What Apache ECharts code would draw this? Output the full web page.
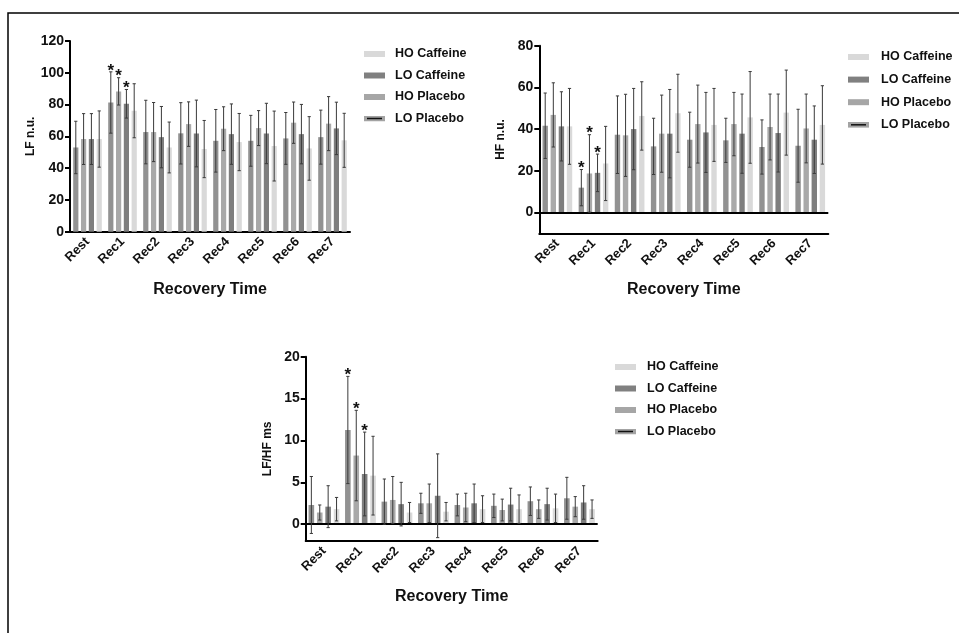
<!DOCTYPE html>
<html><head><meta charset="utf-8">
<script src="https://cdn.jsdelivr.net/npm/echarts@6/dist/echarts.min.js"></script>
<style>html,body{margin:0;padding:0;background:#fff}#c{width:959px;height:633px}</style>
</head><body><div id="c"></div><script>
// ---------- data ----------
const categories = ['Rest','Rec1','Rec2','Rec3','Rec4','Rec5','Rec6','Rec7'];
// bar order inside each group
const barSeries = ['LO Caffeine','HO Placebo','LO Placebo','HO Caffeine'];
const legendOrder = ['HO Caffeine','LO Caffeine','HO Placebo','LO Placebo'];

// LF n.u.
const lfLoCaffeine = [53, 81.3, 62.7, 61.9, 57.2, 57.2, 58.7, 59.5];
const lfHoPlacebo  = [58.3, 88.3, 62.7, 67.7, 64.8, 65.2, 68.6, 68];
const lfLoPlacebo  = [58.3, 80.5, 59.5, 61.8, 61.4, 61.8, 61.4, 65];
const lfHoCaffeine = [58.3, 76.1, 53, 52, 56.4, 53.9, 52.4, 57.5];
const lfLoCaffeineSD = [16.5, 19.3, 20, 19.3, 19.7, 16, 16.3, 17];
const lfHoPlaceboSD  = [16, 8.6, 18.6, 14, 13.8, 11, 13, 17];
const lfLoPlaceboSD  = [16, 9, 19.3, 21, 19, 19, 18.7, 16.5];
const lfHoCaffeineSD = [17.7, 17, 16, 18, 18, 22, 20, 17];

// HF n.u.
const hfLoCaffeine = [41.6, 11.9, 37.3, 31.7, 34.9, 34.6, 31.4, 32];
const hfHoPlacebo  = [46.8, 18.7, 37, 37.8, 42.4, 42.4, 41, 40.3];
const hfLoPlacebo  = [41.3, 19, 40, 37.8, 38.4, 37.8, 38.1, 34.9];
const hfHoCaffeine = [41.3, 23.5, 46.3, 47.6, 42, 45.6, 47.9, 42];
const hfLoCaffeineSD = [15.7, 8.7, 18.6, 13.5, 13.2, 10.6, 13, 17.5];
const hfHoPlaceboSD  = [15.4, 18.6, 19.7, 18.5, 18.7, 15.2, 15.8, 16.5];
const hfLoPlaceboSD  = [16.6, 9, 19.5, 21.2, 19.2, 19, 18.7, 16.2];
const hfHoCaffeineSD = [18.2, 17.8, 16.4, 18.7, 17.5, 22, 20.4, 18.8];

// LF/HF ms
const ratioLoCaffeine = [2.3, 11.25, 2.7, 2.5, 2.3, 2.2, 2.75, 3.1];
const ratioHoPlacebo  = [1.4, 8.2, 2.9, 2.5, 2.0, 1.7, 1.8, 2.1];
const ratioLoPlacebo  = [2.1, 6.0, 2.4, 3.4, 2.5, 2.35, 2.4, 2.6];
const ratioHoCaffeine = [1.8, 5.8, 1.4, 1.5, 1.8, 1.8, 1.9, 1.8];
const ratioLoCaffeineSD = [3.4, 6.4, 2.7, 1.2, 1.3, 1.4, 1.7, 2.5];
const ratioHoPlaceboSD  = [0.9, 5.4, 2.8, 2.3, 1.7, 1.3, 1.1, 1.2];
const ratioLoPlaceboSD  = [2.5, 5.0, 2.6, 5.0, 2.3, 1.95, 1.9, 2.0];
const ratioHoCaffeineSD = [1.4, 4.7, 1.2, 1.1, 1.6, 1.7, 1.7, 1.1];

// significant bars: [category index, bar index]
const significant = [[1,0],[1,1],[1,2]];

// tick labels
const lfTicks = [0,20,40,60,80,100,120];
const hfTicks = [0,20,40,60,80];
const ratioTicks = [0,5,10,15,20];

// ---------- styling ----------
const FONT = 'Liberation Sans, Arial, Helvetica, sans-serif';
const barColors = ['#929292','#a9a9a9','#7e7e7e','#d9d9d9'];
const legendColors = {'HO Caffeine':'#d9d9d9','LO Caffeine':'#808080','HO Placebo':'#a6a6a6','LO Placebo':'#a3a3a3'};
const loPlaceboIcon = 'image://data:image/svg+xml;utf8,' + encodeURIComponent(
  '<svg xmlns="http://www.w3.org/2000/svg" width="42" height="12"><rect width="42" height="12" fill="#a3a3a3"/><rect x="6" y="4.5" width="30" height="3" fill="#111"/></svg>');

const panels = [
  { name:'LF n.u.', grid:{left:70, top:41, width:280, height:190.7}, min:0, max:120, ticks:lfTicks,
    means:[lfLoCaffeine,lfHoPlacebo,lfLoPlacebo,lfHoCaffeine], sds:[lfLoCaffeineSD,lfHoPlaceboSD,lfLoPlaceboSD,lfHoCaffeineSD],
    bw:5.2, zero:false, legend:{left:364, top:47, gap:7.5, tp:5}, nameGap:32, xNameGap:50 },
  { name:'HF n.u.', grid:{left:539.3, top:45.7, width:289, height:187.6}, min:-10, max:80, ticks:hfTicks,
    means:[hfLoCaffeine,hfHoPlacebo,hfLoPlacebo,hfHoCaffeine], sds:[hfLoCaffeineSD,hfHoPlaceboSD,hfLoPlaceboSD,hfHoCaffeineSD],
    bw:5.4, zero:true, legend:{left:848, top:50, gap:8.6, tp:7}, nameGap:33, xNameGap:48 },
  { name:'LF/HF ms', grid:{left:305.7, top:356.7, width:292, height:184.3}, min:-2, max:20, ticks:ratioTicks,
    means:[ratioLoCaffeine,ratioHoPlacebo,ratioLoPlacebo,ratioHoCaffeine], sds:[ratioLoCaffeineSD,ratioHoPlaceboSD,ratioLoPlaceboSD,ratioHoCaffeineSD],
    bw:5.6, zero:true, legend:{left:615, top:360, gap:7.5, tp:6}, nameGap:32, xNameGap:48 }
];

const option = { animation:false, backgroundColor:'#fff', textStyle:{fontFamily:FONT},
  grid:[], xAxis:[], yAxis:[], series:[], legend:[], graphic:[] };

panels.forEach((p, gi) => {
  option.grid.push(Object.assign({containLabel:false}, p.grid));
  option.xAxis.push({
    type:'category', gridIndex:gi, data:categories, boundaryGap:true,
    name:'Recovery Time', nameLocation:'middle', nameGap:p.xNameGap,
    nameTextStyle:{fontFamily:FONT, fontWeight:'bold', fontSize:16, color:'#111'},
    axisLine:{onZero:false, lineStyle:{color:'#000', width:2}},
    axisTick:{alignWithLabel:true, length:5, lineStyle:{color:'#000', width:2}},
    axisLabel:{rotate:45, margin:8, fontFamily:FONT, fontWeight:'bold', fontSize:13, color:'#111'},
    splitLine:{show:false}
  });
  option.yAxis.push({
    type:'value', gridIndex:gi, min:p.min, max:p.max,
    name:p.name, nameLocation:'middle', nameRotate:90, nameGap:p.nameGap,
    nameTextStyle:{fontFamily:FONT, fontWeight:'bold', fontSize:12, color:'#111'},
    axisLine:{show:true, lineStyle:{color:'#000', width:2}},
    axisTick:{show:true, length:5, lineStyle:{color:'#000', width:2}, customValues:p.ticks},
    axisLabel:{fontFamily:FONT, fontWeight:'bold', fontSize:14, color:'#111', margin:6, customValues:p.ticks},
    splitLine:{show:false}
  });
  barSeries.forEach((sn, bi) => {
    const s = { type:'bar', name:sn, xAxisIndex:gi, yAxisIndex:gi, data:p.means[bi],
      barWidth:p.bw, barGap:'50%', itemStyle:{color:barColors[bi]}, z:2 };
    if (bi === 0 && p.zero) {
      s.markLine = { silent:true, symbol:'none', label:{show:false}, animation:false,
        lineStyle:{color:'#000', width:2, type:'solid'}, data:[{yAxis:0}] };
    }
    option.series.push(s);
  });
  // error bars + significance marks
  const data = [];
  for (let bi = 0; bi < 4; bi++) for (let c = 0; c < categories.length; c++) {
    const sig = significant.some(d => d[0] === c && d[1] === bi) ? 1 : 0;
    data.push([c, p.means[bi][c], p.sds[bi][c], bi, sig]);
  }
  const pitch = p.bw * 1.5;
  option.series.push({
    type:'custom', xAxisIndex:gi, yAxisIndex:gi, data, z:5, silent:true,
    encode:{x:0, y:1},
    renderItem:(params, api) => {
      const c = api.value(0), m = api.value(1), sd = api.value(2), bi = api.value(3), sig = api.value(4);
      const base = api.coord([c, m]);
      const x = base[0] + (bi - 1.5) * pitch;
      const yt = api.coord([c, m + sd])[1];
      const yb = api.coord([c, m - sd])[1];
      const st = {stroke:'#3a3a3a', lineWidth:1};
      const ch = [
        {type:'line', shape:{x1:x, y1:yt, x2:x, y2:yb}, style:st},
        {type:'line', shape:{x1:x-1.6, y1:yt, x2:x+1.6, y2:yt}, style:st},
        {type:'line', shape:{x1:x-1.6, y1:yb, x2:x+1.6, y2:yb}, style:st}
      ];
      if (sig) ch.push({type:'text', style:{text:'*', x:x, y:yt - 1, align:'center', verticalAlign:'middle',
        font:'bold 17px ' + FONT, fill:'#111'}});
      return {type:'group', children:ch};
    }
  });
  option.legend.push({
    orient:'vertical', left:p.legend.left, top:p.legend.top, itemGap:p.legend.gap, padding:0,
    itemWidth:21, itemHeight:6, selectedMode:false,
    textStyle:{fontFamily:FONT, fontWeight:'bold', fontSize:12.5, color:'#111', lineHeight:14, padding:[0,0,0,p.legend.tp]},
    data: legendOrder.map(n => n === 'LO Placebo'
      ? {name:n, icon:loPlaceboIcon}
      : {name:n, icon:'rect', itemStyle:{color:legendColors[n]}})
  });
});

option.graphic.push({ type:'rect', silent:true, shape:{x:8, y:13, width:1000, height:700},
  style:{fill:'none', stroke:'#000', lineWidth:1.5}, z:0 });

const chart = echarts.init(document.getElementById('c'), null, {renderer:'canvas'});
chart.setOption(option);
</script></body></html>
